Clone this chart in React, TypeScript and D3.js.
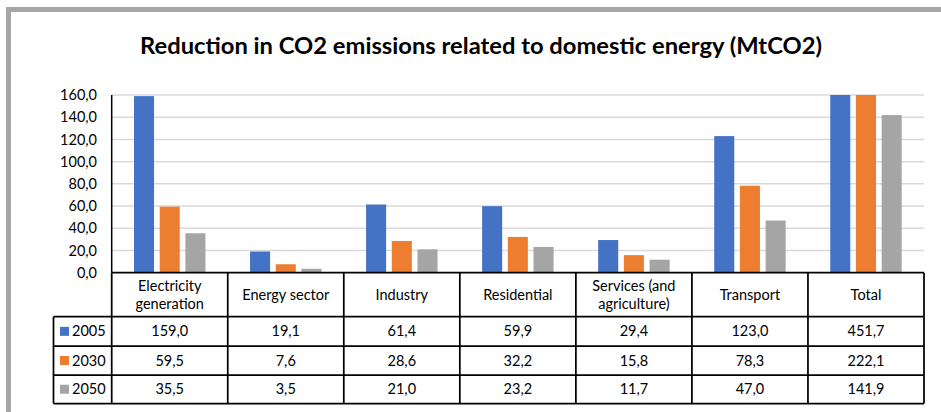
import React from "react";
import * as d3 from "d3";

const categories = [
  ["Electricity", "generation"],
  ["Energy sector"],
  ["Industry"],
  ["Residential"],
  ["Services (and", "agriculture)"],
  ["Transport"],
  ["Total"],
];
const seriesNames = ["2005", "2030", "2050"];
const values2005 = [159.0, 19.1, 61.4, 59.9, 29.4, 123.0, 451.7];
const values2030 = [59.5, 7.6, 28.6, 32.2, 15.8, 78.3, 222.1];
const values2050 = [35.5, 3.5, 21.0, 23.2, 11.7, 47.0, 141.9];
const yTicks = [0, 20, 40, 60, 80, 100, 120, 140, 160];
const colors = ["#4472C4", "#ED7D31", "#A5A5A5"];

const W = 941;
const H = 412;
const FONT = "Lato, 'Open Sans', sans-serif";

const fmt = (v: number) => v.toFixed(1).replace(".", ",");

export default function App() {
  const series = [values2005, values2030, values2050];
  const left = 111.7;
  const right = 924;
  const top = 95;
  const zeroY = 272.7;
  const headerBottom = 316.7;
  const rowBottoms = [346, 375, 403.5];
  const legendLeft = 53.5;

  const x0 = d3
    .scaleBand<number>()
    .domain(d3.range(categories.length))
    .range([left, right])
    .paddingInner(0)
    .paddingOuter(0);
  const bw = x0.bandwidth();
  const groupPad = 22.3;
  const x1 = d3
    .scaleBand<number>()
    .domain(d3.range(series.length))
    .range([groupPad, bw - groupPad])
    .paddingInner(0.22)
    .paddingOuter(0);
  const y = d3.scaleLinear().domain([0, 160]).range([zeroY, top]);

  const rowTops = [headerBottom, rowBottoms[0], rowBottoms[1]];

  return (
    <svg
      width={W}
      height={H}
      style={{ position: "absolute", left: 0, top: 0, background: "#fff" }}
      fontFamily={FONT}
    >
      <defs>
        <clipPath id="plotClip">
          <rect x={left} y={top} width={right - left} height={zeroY - top} />
        </clipPath>
      </defs>
      <rect x={8.5} y={9.5} width={1000} height={1000} fill="#fff" stroke="#A6A6A6" strokeWidth={5} />

      <text
        x={481}
        y={53.5}
        textAnchor="middle"
        fontWeight="bold"
        fontSize={22.5}
        textLength={682}
        lengthAdjust="spacingAndGlyphs"
        fill="#000"
      >
        Reduction in CO2 emissions related to domestic energy (MtCO2)
      </text>

      {/* gridlines */}
      {yTicks.slice(1).map((t) => (
        <line key={t} x1={left} x2={right} y1={y(t)} y2={y(t)} stroke="#D9D9D9" strokeWidth={1.5} />
      ))}
      {/* y tick labels */}
      {yTicks.map((t) => (
        <text key={t} x={97} y={y(t)} dy="0.35em" textAnchor="end" fontSize={14.5} fill="#000">
          {fmt(t)}
        </text>
      ))}

      {/* bars */}
      <g clipPath="url(#plotClip)">
        {categories.map((_, ci) =>
          series.map((s, si) => (
            <rect
              key={`${ci}-${si}`}
              x={(x0(ci) as number) + (x1(si) as number)}
              y={y(s[ci])}
              width={x1.bandwidth()}
              height={zeroY - y(s[ci])}
              fill={colors[si]}
            />
          ))
        )}
      </g>

      {/* y axis line */}
      <line x1={left} x2={left} y1={top} y2={zeroY} stroke="#000" strokeWidth={1.5} />

      {/* data table */}
      <g stroke="#000" strokeWidth={1.75} fill="none">
        <line x1={left} x2={right} y1={zeroY} y2={zeroY} />
        <line x1={legendLeft} x2={right} y1={headerBottom} y2={headerBottom} />
        {rowBottoms.map((rb, i) => (
          <line key={i} x1={legendLeft} x2={right} y1={rb} y2={rb} />
        ))}
        <line x1={legendLeft} x2={legendLeft} y1={headerBottom} y2={rowBottoms[2]} />
        {d3.range(categories.length + 1).map((i) => {
          const xx = i < categories.length ? (x0(i) as number) : right;
          return <line key={i} x1={xx} x2={xx} y1={zeroY} y2={rowBottoms[2]} />;
        })}
      </g>

      {/* category headers */}
      {categories.map((lines, ci) => {
        const cx = (x0(ci) as number) + bw / 2;
        const cy = (zeroY + headerBottom) / 2;
        const lh = 18;
        return (
          <text key={ci} x={cx} textAnchor="middle" fontSize={14.5} fill="#000">
            {lines.map((ln, li) => (
              <tspan key={li} x={cx} y={cy + (li - (lines.length - 1) / 2) * lh} dy="0.35em">
                {ln}
              </tspan>
            ))}
          </text>
        );
      })}

      {/* legend + values rows */}
      {series.map((s, si) => {
        const cy = (rowTops[si] + rowBottoms[si]) / 2;
        return (
          <g key={si}>
            <rect x={60} y={cy - 4.5} width={9} height={9} fill={colors[si]} />
            <text x={72} y={cy} dy="0.35em" fontSize={14.5} fill="#000">
              {seriesNames[si]}
            </text>
            {s.map((v, ci) => (
              <text
                key={ci}
                x={(x0(ci) as number) + bw / 2}
                y={cy}
                dy="0.35em"
                textAnchor="middle"
                fontSize={14.5}
                fill="#000"
              >
                {fmt(v)}
              </text>
            ))}
          </g>
        );
      })}
    </svg>
  );
}
